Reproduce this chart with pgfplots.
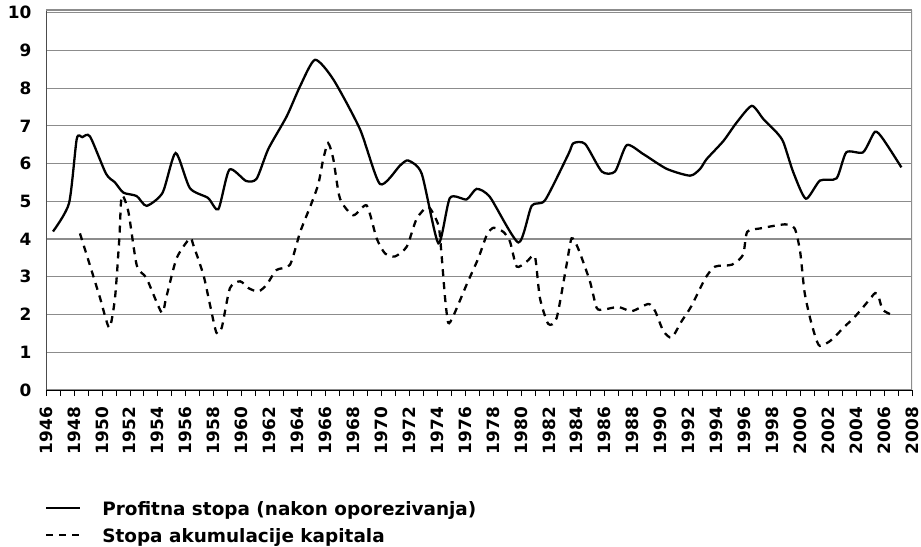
\documentclass[border=0pt]{standalone}
\usepackage{pgfplots}
\pgfplotsset{compat=1.18}
\usepackage{fontspec}
\setmainfont{DejaVu Sans}
\begin{document}
\bfseries
\begin{tikzpicture}
\useasboundingbox (-46bp,-157bp) rectangle (875bp,390bp);
\begin{axis}[
  at={(0,0)}, anchor=south west,
  scale only axis, width=866bp, height=380bp,
  xmin=1946, xmax=2008, ymin=0, ymax=10.07,
  axis x line=bottom, axis y line=left,
  axis line style={-, line width=0.8pt},
  x axis line style={black},
  y axis line style={black!70},
  xtick={1946,1948,...,2008},
  minor xtick={1947,1949,...,2007},
  ytick={0,1,...,10},
  ymajorgrids, grid style={gray!90, line width=1.2pt},
  tick align=outside,
  major x tick style={black, line width=0.6pt},
  minor x tick style={black, line width=0.6pt},
  major tick length=6bp, minor tick length=6bp,
  ytick style={draw=none},
  /pgf/number format/assume math mode=true,
  /pgf/number format/1000 sep={},
  tick label style={font=\fontsize{17}{20}\selectfont\bfseries},
  xticklabel={\rotatebox{90}{\pgfmathprintnumber[1000 sep={}]{\tick}}},
  xticklabel style={anchor=north, inner sep=2bp},
  xticklabel shift=9bp,
  yticklabel style={xshift=-5bp},
  legend style={at={(-0.0012,-0.292)}, anchor=north west, draw=none, fill=none,
    font=\fontsize{18.5}{22}\selectfont\bfseries, row sep=9bp, inner xsep=0pt, inner ysep=0pt,
    nodes={text height=14bp, text depth=4bp, inner ysep=0pt}},
  legend cell align=left,
  legend image code/.code={\path[draw=none] (0bp,0bp) -- (54bp,0bp); \draw[#1] (0bp,2bp) -- (34bp,2bp);},
]
\addplot[black, line width=2.3pt, smooth, tension=0.4] table {
1946.5 4.2
1947.65 4.95
1948.2 6.65
1948.6 6.7
1949.15 6.72
1950.3 5.73
1950.94 5.5
1951.54 5.23
1952.49 5.14
1953.2 4.88
1954.35 5.23
1955.28 6.28
1956.3 5.35
1957.6 5.09
1958.34 4.79
1959.13 5.84
1960.32 5.54
1961.08 5.6
1961.92 6.39
1963.23 7.25
1964.19 8.05
1965.26 8.75
1966.57 8.23
1968.48 6.91
1969.91 5.46
1971.35 5.95
1971.94 6.08
1972.9 5.73
1974.09 3.89
1974.92 5.09
1976.11 5.05
1976.83 5.33
1977.79 5.11
1979.82 3.91
1980.77 4.88
1981.73 5.03
1983.4 6.25
1983.76 6.54
1984.6 6.52
1985.79 5.79
1986.74 5.79
1987.58 6.49
1988.77 6.25
1990.44 5.86
1992.11 5.68
1992.83 5.86
1993.3 6.12
1994.5 6.6
1995.45 7.09
1996.53 7.53
1997.36 7.18
1998.32 6.82
1998.8 6.56
1999.5 5.77
2000.4 5.07
2001.41 5.55
2002.6 5.61
2003.3 6.3
2004.5 6.3
2005.34 6.84
2005.93 6.65
2007.24 5.9
};
\addlegendentry{Profitna stopa (nakon oporezivanja)}
\addplot[black, line width=2.3pt, smooth, tension=0.4, dash pattern=on 7bp off 6bp] table {
1948.43 4.15
1949.15 3.3
1949.87 2.44
1950.53 1.65
1950.94 2.44
1951.25 4.02
1951.42 5.15
1951.9 4.72
1952.5 3.3
1953.2 2.96
1954.28 2.05
1954.6 2.44
1955.35 3.49
1956.3 4.02
1956.55 3.84
1957.27 3.05
1957.74 2.26
1958.2 1.52
1958.58 1.65
1959.17 2.7
1959.9 2.88
1960.5 2.7
1961.2 2.61
1961.8 2.79
1962.5 3.18
1963.47 3.32
1964.2 4.19
1965.0 4.94
1965.5 5.46
1965.85 6.12
1966.2 6.54
1966.57 6.12
1967.05 5.07
1968.0 4.63
1968.96 4.89
1969.67 4.02
1970.27 3.62
1970.99 3.54
1971.83 3.8
1972.54 4.54
1973.38 4.85
1974.09 4.37
1974.3 3.67
1974.57 2.44
1974.8 1.78
1975.16 1.96
1976.11 2.79
1976.95 3.49
1977.55 4.1
1978.03 4.3
1978.74 4.19
1979.22 3.93
1979.7 3.27
1980.41 3.4
1981.0 3.54
1981.36 2.44
1981.96 1.75
1982.56 1.91
1983.27 3.32
1983.63 4.02
1984.1 3.75
1984.94 2.88
1985.42 2.18
1985.9 2.13
1986.97 2.2
1987.94 2.09
1989.13 2.28
1989.61 2.09
1990.2 1.56
1990.8 1.39
1991.5 1.82
1992.2 2.22
1993.2 2.96
1993.9 3.27
1995.1 3.32
1995.9 3.58
1996.2 4.19
1997.1 4.28
1998.9 4.39
1999.6 4.28
1999.99 3.67
2000.3 2.61
2000.7 1.91
2001.1 1.39
2001.4 1.17
2002.14 1.3
2003.1 1.65
2004.05 2.0
2004.76 2.31
2005.36 2.57
2005.6 2.48
2005.9 2.13
2006.5 2.0
};
\addlegendentry{Stopa akumulacije kapitala}
\draw[gray!90, line width=1.2pt] (rel axis cs:1,0) -- (rel axis cs:1,1);
\draw[gray!90, line width=1.2pt] (rel axis cs:0,1) -- (rel axis cs:1,1);
\end{axis}
\end{tikzpicture}
\end{document}
